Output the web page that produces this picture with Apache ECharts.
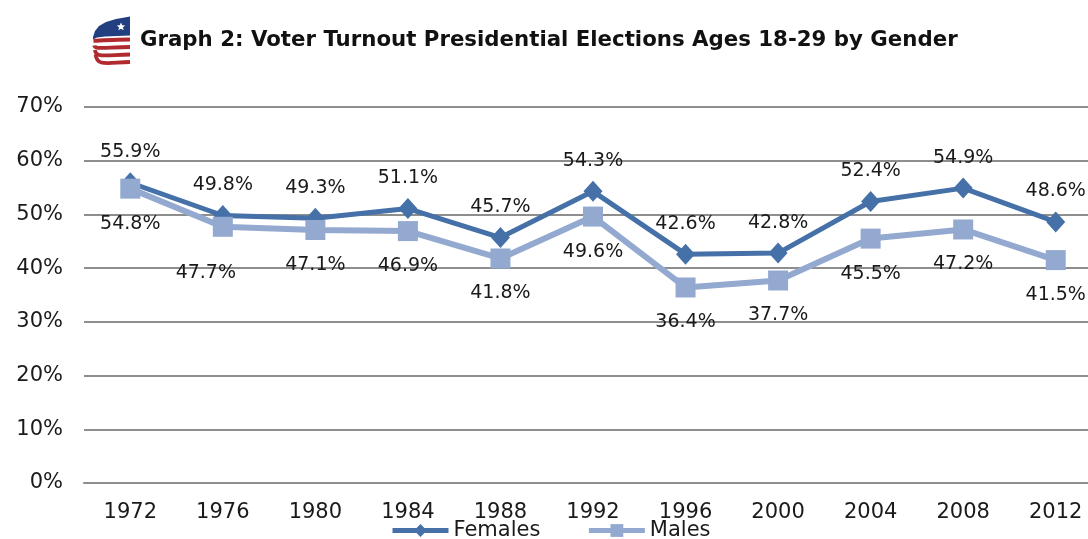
<!DOCTYPE html>
<html>
<head>
<meta charset="utf-8">
<script src="https://cdn.jsdelivr.net/npm/echarts@6/dist/echarts.min.js"></script>
<style>
  html, body { margin: 0; padding: 0; background: #ffffff; }
  #chart { width: 1088px; height: 539px; }
</style>
</head>
<body>
<div id="chart"></div>
<script>
// Election years on the category axis
const years = ['1972', '1976', '1980', '1984', '1988', '1992', '1996', '2000', '2004', '2008', '2012'];
// Turnout (%) of 18-29 year olds
const females = [55.9, 49.8, 49.3, 51.1, 45.7, 54.3, 42.6, 42.8, 52.4, 54.9, 48.6];
const males = [54.8, 47.7, 47.1, 46.9, 41.8, 49.6, 36.4, 37.7, 45.5, 47.2, 41.5];
// Value axis ticks
const yTicks = [0, 10, 20, 30, 40, 50, 60, 70];

const FONT = '"DejaVu Sans", Verdana, sans-serif';
const FEMALE_COLOR = '#4571A8';
const MALE_COLOR = '#93A9D0';
const GRID_COLOR = '#8E8E8E';

// Label for the 1976 male point sits a little lower and to the left
const maleLabelNudge = { 1: [-17, 46] };

const chart = echarts.init(document.getElementById('chart'));

// Small flag emblem drawn beside the title: a blue canton with a star
// above red stripes that wrap round into a "C"
const logo = [
  {
    type: 'polygon',
    shape: {
      points: [[130, 16.5], [116, 19], [106, 22], [99, 26], [95, 31], [93, 37], [93, 39.5],
               [97, 37.5], [105, 36.5], [130, 35.5]]
    },
    style: { fill: '#22407F' }
  },
  {
    type: 'polygon',
    shape: {
      points: [[121, 22.5], [122.2, 25.3], [125.2, 25.5], [122.9, 27.4], [123.7, 30.3], [121, 28.7],
               [118.3, 30.3], [119.1, 27.4], [116.8, 25.5], [119.8, 25.3]]
    },
    style: { fill: '#ffffff' }
  }
];
[0, 1, 2, 3].forEach(function (k) {
  logo.push({
    type: 'bezierCurve',
    shape: {
      x1: 93.5 + k * 0.7, y1: 41 + k * 4.5,
      cpx1: 94 + k * 1, cpy1: 41 + k * 8.5,
      cpx2: 100 + k * 2, cpy2: 40 + k * 7.6,
      x2: 130, y2: 39.5 + k * 7.5
    },
    style: { stroke: '#B02A30', lineWidth: 3.8, fill: null }
  });
});

chart.setOption({
  animation: false,
  textStyle: { fontFamily: FONT },
  title: {
    text: 'Graph 2: Voter Turnout Presidential Elections Ages 18-29 by Gender',
    left: 140,
    top: 30,
    padding: 0,
    textStyle: { fontFamily: FONT, fontSize: 21.3, fontWeight: 'bold', color: '#111111' }
  },
  graphic: logo,
  legend: {
    left: 390,
    top: 520,
    padding: 0,
    itemWidth: 56,
    itemHeight: 16,
    itemGap: 46,
    lineStyle: { width: 5 },
    textStyle: { fontFamily: FONT, fontSize: 21, color: '#1a1a1a' },
    data: ['Females', 'Males']
  },
  grid: { left: 84, right: -14, top: 107, bottom: 56, outerBoundsMode: 'none' },
  xAxis: {
    type: 'category',
    data: years,
    boundaryGap: true,
    axisLine: { lineStyle: { color: GRID_COLOR, width: 2 } },
    axisTick: { show: false },
    axisLabel: { fontFamily: FONT, fontSize: 21, color: '#1a1a1a', margin: 19 }
  },
  yAxis: {
    type: 'value',
    min: yTicks[0],
    max: yTicks[yTicks.length - 1],
    interval: 10,
    axisLine: { show: false },
    axisTick: { show: false },
    splitLine: { lineStyle: { color: GRID_COLOR, width: 2 } },
    axisLabel: { fontFamily: FONT, fontSize: 21, color: '#1a1a1a', margin: 21, formatter: function (v) { return v + '%'; } }
  },
  series: [
    {
      name: 'Females',
      type: 'line',
      data: females,
      color: FEMALE_COLOR,
      lineStyle: { width: 5, color: FEMALE_COLOR },
      itemStyle: { color: FEMALE_COLOR },
      symbol: 'diamond',
      symbolSize: [19, 21],
      label: {
        show: true,
        position: 'inside',
        offset: [0, -30.5],
        fontFamily: FONT,
        fontSize: 19,
        color: '#1a1a1a',
        formatter: function (p) { return (+p.value).toFixed(1) + '%'; }
      }
    },
    {
      name: 'Males',
      type: 'line',
      data: males.map(function (v, i) {
        return maleLabelNudge[i] ? { value: v, label: { offset: maleLabelNudge[i] } } : v;
      }),
      color: MALE_COLOR,
      lineStyle: { width: 6, color: MALE_COLOR },
      itemStyle: { color: MALE_COLOR },
      symbol: 'rect',
      symbolSize: 20,
      label: {
        show: true,
        position: 'inside',
        offset: [0, 35],
        fontFamily: FONT,
        fontSize: 19,
        color: '#1a1a1a',
        formatter: function (p) { return (+p.value).toFixed(1) + '%'; }
      }
    }
  ]
});
</script>
</body>
</html>
